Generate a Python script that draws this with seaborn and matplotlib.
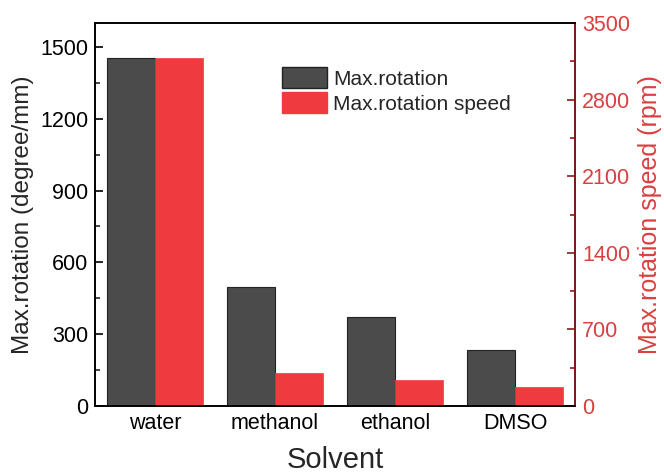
import matplotlib
matplotlib.use("Agg")
import matplotlib.pyplot as plt
import matplotlib.patches as mpatches
import seaborn as sns
import pandas as pd
from matplotlib.ticker import MultipleLocator

solvents = ["water", "methanol", "ethanol", "DMSO"]
max_rotation = [1455, 497, 370, 235]          # degree/mm
max_speed = [3180, 300, 240, 175]             # rpm
series_names = ["Max.rotation", "Max.rotation speed"]
left_ticks = [0, 300, 600, 900, 1200, 1500]
right_ticks = [0, 700, 1400, 2100, 2800, 3500]

sns.set_theme(style="white")
plt.rcParams["font.family"] = ["Liberation Sans", "DejaVu Sans"]

GRAY = "#4b4b4b"
RED = "#ef3b3f"
DARKRED = "#8b1a1a"
LABELRED = "#d9403f"

df_rot = pd.DataFrame({"Solvent": solvents, "series": series_names[0], "value": max_rotation})
df_spd = pd.DataFrame({"Solvent": solvents, "series": series_names[1], "value": max_speed})
palette = {series_names[0]: GRAY, series_names[1]: RED}

fig = plt.figure(figsize=(6.64, 4.75), dpi=100)
ax = fig.add_axes([95 / 664, 1 - 406 / 475, 480 / 664, 383 / 475])
ax2 = ax.twinx()

# each series gets its own y-axis; dodge keeps both hue slots per solvent
sns.barplot(data=df_rot, x="Solvent", y="value", hue="series", hue_order=series_names,
            palette=palette, order=solvents, width=0.8, dodge=True, ax=ax, legend=False,
            edgecolor="#222222", linewidth=0.8, saturation=1)
sns.barplot(data=df_spd, x="Solvent", y="value", hue="series", hue_order=series_names,
            palette=palette, order=solvents, width=0.8, dodge=True, ax=ax2, legend=False,
            edgecolor=RED, linewidth=0.5, saturation=1)

ax.set_xlim(-0.5, 3.5)
ax.set_ylim(0, 1600)
ax2.set_ylim(0, 3500)
ax.set_yticks(left_ticks)
ax.yaxis.set_minor_locator(MultipleLocator(150))
ax2.set_yticks(right_ticks)
ax2.yaxis.set_minor_locator(MultipleLocator(350))
ax.set_xticks(range(len(solvents)))
ax.set_xticklabels(solvents)
ax.set_xticks([0.5, 1.5, 2.5], minor=True)

ax.set_xlabel("Solvent", fontsize=21, labelpad=9)
ax.set_ylabel("Max.rotation (degree/mm)", fontsize=17.5, labelpad=4)
ax2.set_ylabel("Max.rotation speed (rpm)", fontsize=18, color=LABELRED, labelpad=6)

for s in ax.spines.values():
    s.set_color("black")
    s.set_linewidth(1.2)
for s in ax2.spines.values():
    s.set_linewidth(1.2)
ax2.spines["right"].set_color(DARKRED)
ax2.spines["left"].set_color("black")
ax2.spines["top"].set_color("black")
ax2.spines["bottom"].set_color("black")

ax.tick_params(axis="both", which="major", direction="in", length=6, width=1.2,
               labelsize=15.5, colors="black", pad=5)
ax.tick_params(axis="both", which="minor", direction="in", length=3.5, width=1.2)
ax.tick_params(axis="x", which="major", length=4)
ax.tick_params(axis="x", which="minor", length=4)
ax2.tick_params(axis="y", which="major", direction="in", length=6, width=1.2,
                labelsize=15.5, color=DARKRED, labelcolor=LABELRED, pad=5)
ax2.tick_params(axis="y", which="minor", direction="in", length=3.5, width=1.2, color=DARKRED)

handles = [mpatches.Patch(facecolor=GRAY, edgecolor="#222222", label=series_names[0]),
           mpatches.Patch(facecolor=RED, edgecolor=RED, label=series_names[1])]
ax2.legend(handles=handles, loc="upper left", bbox_to_anchor=(0.39, 0.885), frameon=False,
           fontsize=15, handlelength=2.15, handleheight=1.2, handletextpad=0.3,
           labelspacing=0.15, borderaxespad=0, borderpad=0)

fig.savefig("out.png", dpi=100)
